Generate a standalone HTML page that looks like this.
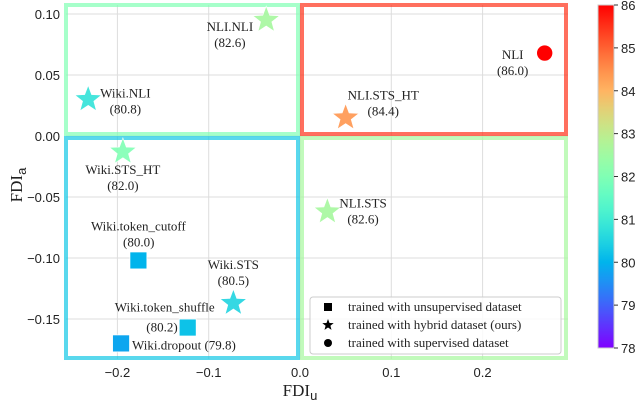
<!DOCTYPE html>
<html><head><meta charset="utf-8"><style>
body{margin:0;background:#fff}
svg{display:block}
.t{font-family:"Liberation Sans",sans-serif;font-size:13px;fill:#222}
.s{font-family:"Liberation Serif",serif;font-size:13px;fill:#222}
.ax{font-family:"Liberation Serif",serif;font-size:17px;fill:#222}
</style></head><body>
<svg id="c" width="640" height="404" xmlns="http://www.w3.org/2000/svg"></svg>
<script>
const names=["NLI.NLI","Wiki.NLI","NLI","NLI.STS_HT","Wiki.STS_HT","NLI.STS","Wiki.token_cutoff","Wiki.STS","Wiki.token_shuffle","Wiki.dropout"];
const fdiU=[-0.037,-0.232,0.268,0.050,-0.194,0.030,-0.177,-0.073,-0.123,-0.196];
const fdiA=[0.095,0.030,0.068,0.015,-0.013,-0.062,-0.102,-0.137,-0.157,-0.170];
const scores=[82.6,80.8,86.0,84.4,82.0,82.6,80.0,80.5,80.2,79.8];
const kinds=["star","star","circle","star","star","star","square","star","square","square"];
const xTicks=[-0.2,-0.1,0.0,0.1,0.2];
const yTicks=[0.10,0.05,0.00,-0.05,-0.10,-0.15];
const cTicks=[78,79,80,81,82,83,84,85,86];
const boxScores=[82.0,85.5,80.3,82.6];

const X=v=>300+v*913, Y=v=>136-v*1220;
const cmin=78,cmax=86, CY=v=>348-(v-cmin)/(cmax-cmin)*343;
function rainbow(v){let x=(v-cmin)/(cmax-cmin);x=Math.max(0,Math.min(1,x));
 const r=Math.min(1,Math.abs(2*x-0.5)),g=Math.sin(Math.PI*x),b=Math.cos(Math.PI*x/2);
 return `rgb(${Math.round(r*255)},${Math.round(g*255)},${Math.round(b*255)})`;}
const svg=document.getElementById('c');const NS="http://www.w3.org/2000/svg";
function el(t,a,p){const e=document.createElementNS(NS,t);for(const k in a)e.setAttribute(k,a[k]);(p||svg).appendChild(e);return e;}
for(const t of xTicks){const g=el('line',{x1:X(t),x2:X(t),y1:5,y2:359,stroke:'#ddd','stroke-width':1});


const l=el('text',{x:X(t),y:377,'text-anchor':'middle',class:'t'});l.textContent=t.toFixed(1).replace('-','−');

}
for(const t of yTicks){const g=el('line',{x1:66,x2:568,y1:Y(t),y2:Y(t),stroke:'#ddd','stroke-width':1});


const l=el('text',{x:60,y:Y(t)+5,'text-anchor':'end',class:'t'});l.textContent=t.toFixed(2).replace('-','−');

}
const boxes=[[66,5,298,134],[302,5,566,134],[66,138,298,358],[302,138,566,358]];
const bn=['quadrant-box-top-left','quadrant-box-top-right','quadrant-box-bottom-left','quadrant-box-bottom-right'];
boxes.forEach((b,i)=>{const r=el('rect',{x:b[0],y:b[1],width:b[2]-b[0],height:b[3]-b[1],fill:'none',stroke:rainbow(boxScores[i]),'stroke-width':4,opacity:0.7});

});
function starPts(cx,cy,R){const r=R*0.42;let p=[];for(let i=0;i<10;i++){const a=-Math.PI/2+i*Math.PI/5;const rr=i%2?r:R;p.push((cx+rr*Math.cos(a)).toFixed(1)+','+(cy+rr*Math.sin(a)).toFixed(1));}return p.join(' ');}
const labelPos=[[-13,11,'end'],[12,-2,'start'],[-32,6,'middle'],[2,-18,'start'],[0,22,'middle'],[12,-4,'start'],[0,-30,'middle'],[0,-34,'middle'],[27,-16,'end'],[11,6,'start']];
names.forEach((n,i)=>{const cx=X(fdiU[i]),cy=Y(fdiA[i]),c=rainbow(scores[i]);let m;
 if(kinds[i]=='star')m=el('polygon',{points:starPts(cx,cy,14),fill:c,stroke:'#fff','stroke-width':0.6,opacity:0.9});
 else if(kinds[i]=='circle')m=el('circle',{cx:cx,cy:cy,r:8,fill:c,stroke:'#fff','stroke-width':0.6});
 else m=el('rect',{x:cx-8.5,y:cy-8.5,width:17,height:17,fill:c,stroke:'#fff','stroke-width':0.8});
 
 
 const lp=labelPos[i];const t=el('text',{x:cx+lp[0],y:cy+lp[1],'text-anchor':lp[2],class:'s'});
 
 
 const sc='('+scores[i].toFixed(1)+')';
 if(n==='Wiki.dropout'){t.textContent=n+' '+sc;return;}
 t.textContent=n;
 let t2;
 if(n==='Wiki.token_shuffle'){t2=el('text',{x:cx-10,y:cy+4,'text-anchor':'end',class:'s'});}
 else{const bb=t.getBBox();t2=el('text',{x:bb.x+bb.width/2,y:cy+lp[1]+16,class:'s','text-anchor':'middle'});}
 t2.textContent=sc;
 
 
});
const lg=el('g',{});


el('rect',{x:310,y:297,width:251,height:57,rx:3,fill:'#fff',stroke:'#ccc','fill-opacity':0.85},lg);
const lt=['trained with unsupervised dataset','trained with hybrid dataset (ours)','trained with supervised dataset'];
lt.forEach((s,i)=>{const y=307+i*18;let m;
 if(i==0)m=el('rect',{x:324,y:y-4,width:8,height:8,fill:'#000'},lg);
 else if(i==1)m=el('polygon',{points:starPts(328,y,6),fill:'#000'},lg);
 else m=el('circle',{cx:328,cy:y,r:4,fill:'#000'},lg);
 
 
 const t=el('text',{x:348,y:y+4,class:'s'},lg);t.textContent=s;
 
 });
const xt=el('text',{x:300,y:396,'text-anchor':'middle',class:'ax'});xt.innerHTML='FDI<tspan style="font-family:Liberation Sans;font-size:13px" dy="4">u</tspan>';


const yt=el('text',{x:0,y:0,'text-anchor':'middle',class:'ax',transform:'translate(22,185) rotate(-90)'});yt.innerHTML='FDI<tspan style="font-family:Liberation Sans;font-size:13px" dy="4">a</tspan>';


const defs=el('defs',{});const gr=el('linearGradient',{id:'cb',x1:0,y1:1,x2:0,y2:0},defs);
for(let k=0;k<=20;k++){el('stop',{offset:k/20,'stop-color':rainbow(cmin+k/20*(cmax-cmin))},gr);}
const cb=el('rect',{x:598,y:5,width:16,height:343,fill:'url(#cb)',stroke:'#ccc','stroke-width':1});


cTicks.forEach(v=>{el('line',{x1:614,x2:618,y1:CY(v),y2:CY(v),stroke:'#333'});
 const t=el('text',{x:621,y:CY(v)+5,class:'t'});t.textContent=v;
 
 });
</script>
</body></html>
